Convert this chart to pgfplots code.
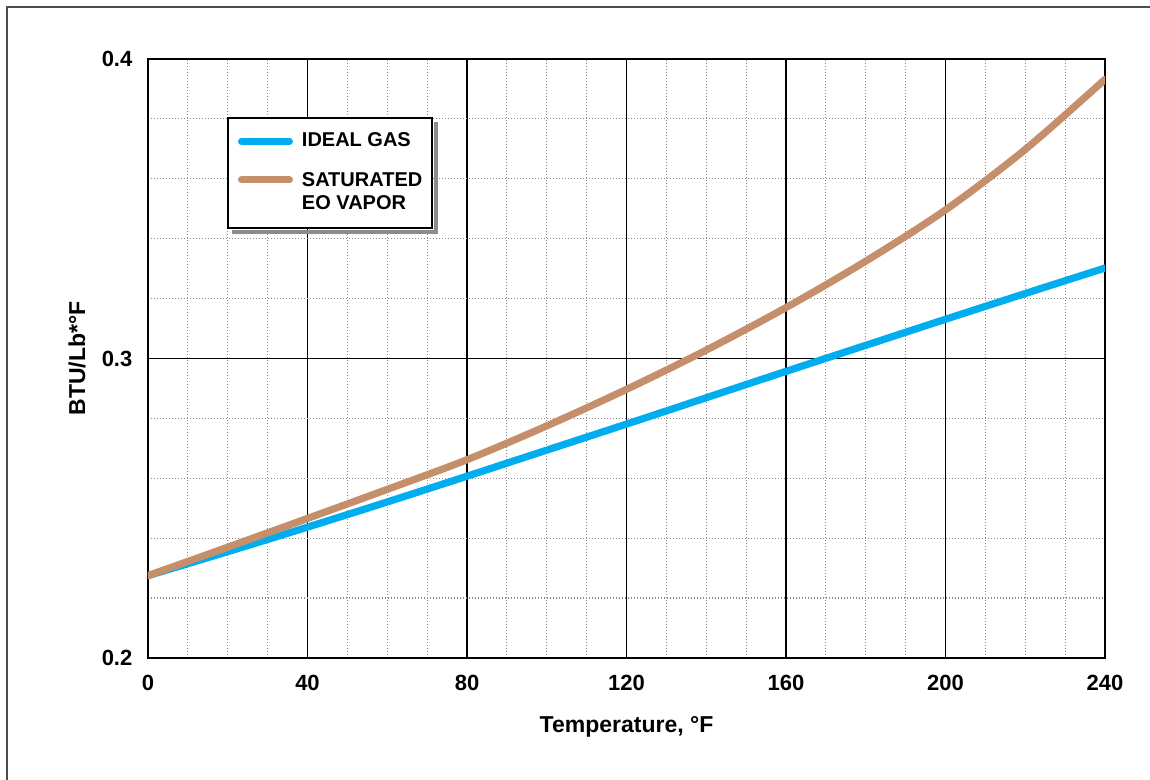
\documentclass[border=0pt]{standalone}
\usepackage{fontspec}
\setmainfont{Liberation Sans}
\usepackage{pgfplots}
\pgfplotsset{compat=1.18}
\usetikzlibrary{calc}
\definecolor{idealblue}{HTML}{00ADEF}
\definecolor{satbrown}{HTML}{C68F6C}
\begin{document}
\begin{tikzpicture}
\useasboundingbox (-74pt,-61pt) rectangle (501pt,329pt);
\draw[line width=1pt, color=black!70] (-70.5pt,-80pt) -- (-70.5pt,325.5pt) -- (520pt,325.5pt);
\begin{axis}[
  at={(0,0)}, anchor=south west,
  scale only axis, width=478.5pt, height=299.5pt,
  xmin=0, xmax=240, ymin=0.2, ymax=0.4,
  xtick={0,40,80,120,160,200,240},
  ytick={0.2,0.3,0.4}, yticklabels={0.2,0.3,0.4},
  minor x tick num=3, minor y tick num=4,
  grid=both,
  major grid style={black, line width=0.75pt},
  minor grid style={black!45, line width=0.6pt, dash pattern=on 0.6pt off 0.9pt},
  major tick length=0pt, minor tick length=0pt,
  axis line style={black, line width=0.9pt},
  ticklabel style={font=\fontsize{11}{13}\selectfont\bfseries},
  /pgf/number format/assume math mode=true,
  xticklabel style={yshift=-4.8pt},
  yticklabel style={xshift=-4.3pt},
  xlabel={Temperature, °F},
  ylabel={BTU/Lb*°F},
  label style={font=\fontsize{11.5}{13}\selectfont\bfseries},
  xlabel style={at={(axis description cs:0.5,-0.1152)}, anchor=center},
  ylabel style={at={(axis description cs:-0.0742,0.5)}, anchor=center},
  legend style={at={(0.0826,0.903)}, anchor=north west, draw=black, line width=0.9pt,
    fill=white, name=leg,
    font=\fontsize{10}{11.5}\selectfont\bfseries,
    inner xsep=5pt, inner ysep=7.5pt, column sep=4.5pt, row sep=11.5pt,
    nodes={inner sep=0pt}, cells={align=left}},
  legend cell align=left,
  legend image code/.code={\draw[#1, line width=3.5pt, line cap=round] (1.75pt,0pt) -- (25.75pt,0pt);},
]
\addplot[idealblue, line width=3.6pt, smooth, line cap=round] coordinates {
(0,0.2275) (20,0.2355) (40,0.2437) (60,0.2521) (80,0.2607) (100,0.2694) (120,0.2781)
(140,0.2869) (160,0.2957) (180,0.3044) (200,0.3131) (220,0.3217) (240,0.3302)};
\addlegendentry{IDEAL GAS}
\addplot[satbrown, line width=3.6pt, smooth, line cap=round,
  legend image code/.code={\draw[satbrown, line width=3.5pt, line cap=round] (1.75pt,6.5pt) -- (25.75pt,6.5pt);}] coordinates {
(0,0.2275) (20,0.2370) (40,0.2466) (60,0.2563) (80,0.2662) (100,0.2775) (120,0.2897)
(140,0.3028) (160,0.3170) (180,0.3325) (200,0.3496) (220,0.3698) (240,0.3932)};
\addlegendentry{SATURATED\\EO VAPOR}
\end{axis}
\fill[black!45] ($(leg.south west)+(2.45pt,-0.45pt)$) rectangle ($(leg.south east)+(2.45pt,-2.45pt)$);
\fill[black!45] ($(leg.north east)+(0.45pt,-2.45pt)$) rectangle ($(leg.south east)+(2.45pt,-0.45pt)$);
\end{tikzpicture}
\end{document}
